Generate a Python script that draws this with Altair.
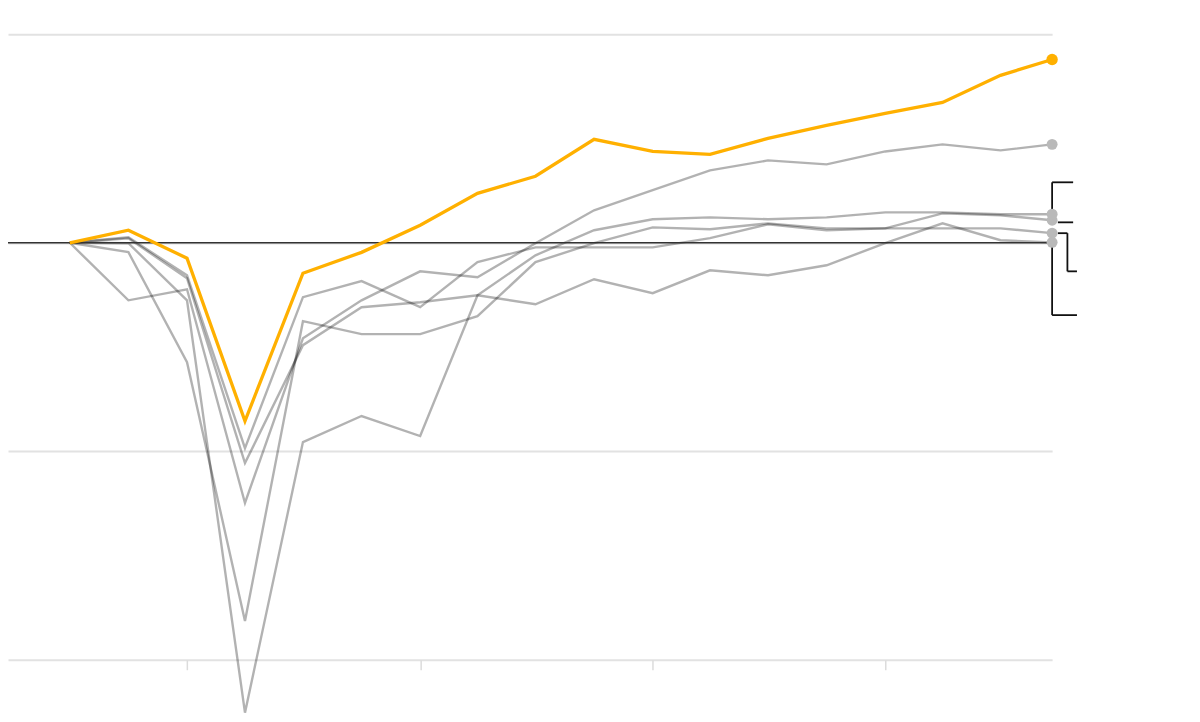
import altair as alt
import pandas as pd

# Quarterly dates (last point is a partial quarter)
dates = ["2019-07-01", "2019-10-01", "2020-01-01", "2020-04-01", "2020-07-01",
         "2020-10-01", "2021-01-01", "2021-04-01", "2021-07-01", "2021-10-01",
         "2022-01-01", "2022-04-01", "2022-07-01", "2022-10-01", "2023-01-01",
         "2023-04-01", "2023-07-01", "2023-09-20"]

highlight = [0.0, 0.6, -0.74, -8.55, -1.46, -0.46, 0.84, 2.37, 3.19, 4.96,
             4.38, 4.24, 5.01, 5.63, 6.21, 6.73, 8.03, 8.79]
gray_a = [0.0, 0.26, -1.56, -9.85, -2.61, -1.84, -3.09, -0.93, -0.22, -0.22,
          -0.22, 0.22, 0.89, 0.6, 0.69, 0.69, 0.69, 0.46]
gray_b = [0.0, -0.45, -5.73, -18.14, -3.76, -4.38, -4.38, -3.52, -0.93, -0.02,
          0.74, 0.65, 0.93, 0.69, 0.69, 1.41, 1.32, 1.08]
gray_c = [0.0, -2.76, -2.23, -12.48, -4.58, -2.76, -1.37, -1.65, -0.02, 1.56,
          2.52, 3.47, 3.95, 3.76, 4.38, 4.72, 4.43, 4.72]
gray_d = [0.0, 0.22, -1.7, -10.57, -4.91, -3.09, -2.85, -2.52, -2.95, -1.75,
          -2.42, -1.32, -1.56, -1.08, -0.02, 0.93, 0.12, 0.02]
gray_e = [0.0, -0.02, -2.76, -22.54, -9.56, -8.31, -9.27, -2.52, -0.6, 0.6,
          1.13, 1.22, 1.13, 1.22, 1.46, 1.46, 1.37, 1.37]

gray_series = {"a": gray_a, "b": gray_b, "c": gray_c, "d": gray_d, "e": gray_e}

# Bracket (label leader) segments in data units
br_x0 = ["2023-09-20", "2023-09-20", "2023-09-29", "2023-09-29", "2023-10-14",
         "2023-10-14", "2023-09-20", "2023-09-20"]
br_x1 = ["2023-09-20", "2023-10-23", "2023-10-23", "2023-10-14", "2023-10-14",
         "2023-10-29", "2023-09-20", "2023-10-29"]
br_y0 = [2.9, 2.9, 0.98, 0.46, 0.46, -1.37, 0.22, -3.47]
br_y1 = [0.98, 2.9, 0.98, 0.46, -1.37, -1.37, -3.47, -3.47]

year_ticks = [2020, 2021, 2022, 2023]
grid_values = [-20, -10, 0, 10]

rows = []
for name, vals in gray_series.items():
    for d, v in zip(dates, vals):
        rows.append({"date": d, "value": v, "series": name})
gray_df = pd.DataFrame(rows)
hl_df = pd.DataFrame({"date": dates, "value": highlight})
gray_end = gray_df[gray_df["date"] == dates[-1]]
hl_end = hl_df[hl_df["date"] == dates[-1]]
br_df = pd.DataFrame({"x0": br_x0, "x1": br_x1, "y0": br_y0, "y1": br_y1})

x_scale = alt.Scale(type="utc",
                    domain=[alt.DateTime(year=2019, month=3, date=26, utc=True),
                            alt.DateTime(year=2023, month=9, date=20, utc=True)])
y_scale = alt.Scale(domain=[-20, 10], nice=False, zero=False)

x_axis = alt.Axis(values=[alt.DateTime(year=y, month=1, date=1, utc=True) for y in year_ticks],
                  labels=False, title=None, domain=False, grid=False,
                  ticks=True, tickSize=10, tickColor="#dcdcdc", tickWidth=1.5)
y_axis = alt.Axis(values=grid_values, labels=False, title=None, domain=False,
                  ticks=False, grid=True, gridColor="#e2e2e2", gridWidth=2)

base_x = alt.X("date:T", scale=x_scale, axis=x_axis)
base_y = alt.Y("value:Q", scale=y_scale, axis=y_axis)

gray_lines = alt.Chart(gray_df).mark_line(
    color="black", opacity=0.3, strokeWidth=2.4, strokeJoin="miter"
).encode(x=base_x, y=base_y, detail="series:N")

zero_rule = alt.Chart(pd.DataFrame({"z": [0]})).mark_rule(
    color="#333333", strokeWidth=1.6
).encode(y=alt.Y("z:Q", scale=y_scale))

brackets = alt.Chart(br_df).mark_rule(color="#111111", strokeWidth=1.8).encode(
    x=alt.X("x0:T", scale=x_scale), x2="x1:T",
    y=alt.Y("y0:Q", scale=y_scale), y2="y1:Q")

gray_dots = alt.Chart(gray_end).mark_circle(
    color="#b9b9b9", opacity=1, size=120
).encode(x=alt.X("date:T", scale=x_scale), y=alt.Y("value:Q", scale=y_scale))

hl_line = alt.Chart(hl_df).mark_line(
    color="#FFB000", strokeWidth=3.3, strokeJoin="miter"
).encode(x=alt.X("date:T", scale=x_scale), y=alt.Y("value:Q", scale=y_scale))

hl_dot = alt.Chart(hl_end).mark_circle(
    color="#FFB000", opacity=1, size=130
).encode(x=alt.X("date:T", scale=x_scale), y=alt.Y("value:Q", scale=y_scale))

chart = alt.layer(
    gray_lines, zero_rule, brackets, gray_dots, hl_line, hl_dot
).properties(
    width=1045, height=626,
    autosize=alt.AutoSizeParams(type="none"),
    padding={"left": 0, "top": 26, "right": 140, "bottom": 60}
).configure(
    background="white"
).configure_view(stroke="transparent", strokeWidth=0)

chart.save("out.html", embed_options={"renderer": "svg", "actions": False})
